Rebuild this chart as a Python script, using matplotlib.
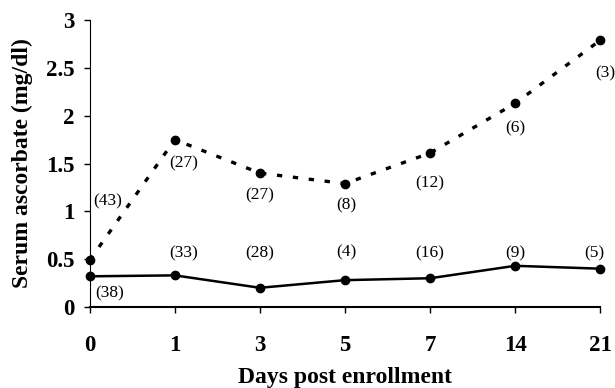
import matplotlib
matplotlib.use('Agg')
import matplotlib.pyplot as plt
import numpy as np

days = ['0', '1', '3', '5', '7', '14', '21']
dashed_vals = [0.49, 1.75, 1.40, 1.29, 1.61, 2.13, 2.79]
dashed_n = ['(43)', '(27)', '(27)', '(8)', '(12)', '(6)', '(3)']
solid_vals = [0.32, 0.33, 0.20, 0.28, 0.30, 0.43, 0.40]
solid_n = ['(38)', '(33)', '(28)', '(4)', '(16)', '(9)', '(5)']

# label offsets in points (layout only)
dashed_off = [(13, 42), (6, -17), (0, -16), (1, -16), (0, -22), (0, -18), (4, -24)]
solid_off = [(14, -12), (6, 16), (0, 25), (1, 20), (0, 18), (0, 9), (-4, 11)]

plt.rcParams['font.family'] = ['Liberation Serif', 'DejaVu Serif']

fig = plt.figure(figsize=(6.15, 3.88), dpi=100, facecolor='white')
ax = fig.add_axes([0.146, 0.209, 0.83, 0.739])

x = np.arange(len(days))
ax.plot(x, dashed_vals, color='black', lw=2.4, linestyle=(0, (1.6, 3.2)),
        marker='o', markersize=6, clip_on=False, zorder=3)
ax.plot(x, solid_vals, color='black', lw=1.8, linestyle='-',
        marker='o', markersize=6, clip_on=False, zorder=3)

for xi, yi, lab, off in zip(x, dashed_vals, dashed_n, dashed_off):
    ax.annotate(lab, (xi, yi), xytext=off, textcoords='offset points',
                ha='center', va='center', fontsize=12.5)
for xi, yi, lab, off in zip(x, solid_vals, solid_n, solid_off):
    ax.annotate(lab, (xi, yi), xytext=off, textcoords='offset points',
                ha='center', va='center', fontsize=12.5)

ax.set_xlim(0, len(days) - 1)
ax.set_ylim(0, 3)
ax.set_xticks(x)
ax.set_xticklabels(days)
ax.set_yticks([0, 0.5, 1, 1.5, 2, 2.5, 3])
ax.set_yticklabels(['0', '0.5', '1', '1.5', '2', '2.5', '3'])
ax.tick_params(axis='y', direction='out', length=4, width=1, pad=7, labelsize=16.5)
ax.tick_params(axis='x', direction='out', length=4, width=1, pad=16, labelsize=16.5)
for lab in ax.get_xticklabels() + ax.get_yticklabels():
    lab.set_fontweight('bold')

for s in ['top', 'right']:
    ax.spines[s].set_visible(False)
ax.spines['left'].set_linewidth(0.8)
ax.spines['bottom'].set_linewidth(1.5)

ax.set_xlabel('Days post enrollment', fontsize=17, fontweight='bold', labelpad=8)
ax.set_ylabel('Serum ascorbate (mg/dl)', fontsize=17, fontweight='bold', labelpad=9)

fig.savefig('out.png', dpi=100, facecolor='white')
